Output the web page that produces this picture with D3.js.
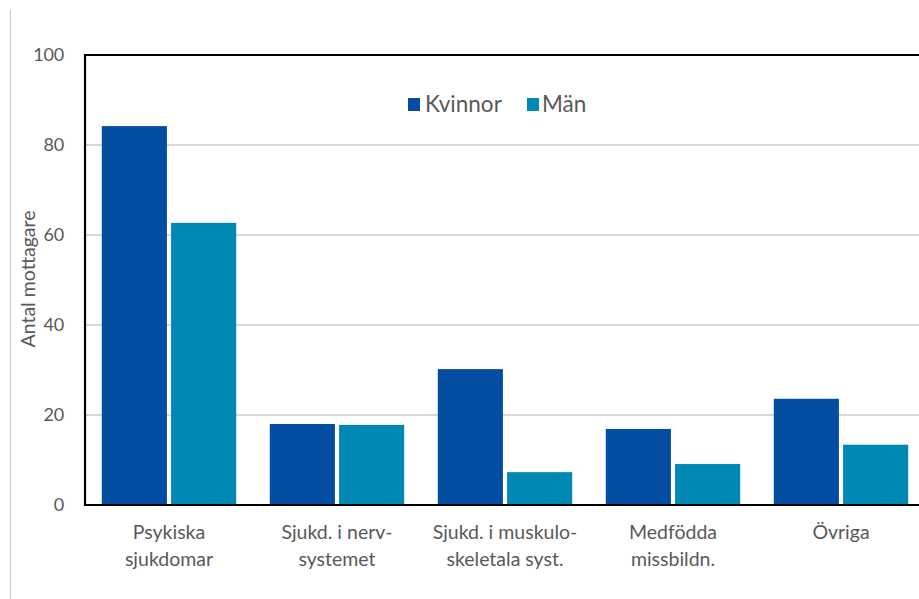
<!DOCTYPE html>
<html>
<head>
<meta charset="utf-8">
<script src="https://cdn.jsdelivr.net/npm/d3@7"></script>
<style>
  html, body { margin: 0; padding: 0; background: #fff; }
  svg { display: block; font-family: Lato, "Open Sans", sans-serif; }
</style>
</head>
<body>
<svg id="chart" width="919" height="599"></svg>
<script>
// Antal mottagare per diagnosgrupp, kvinnor och män
const categories = [
  ["Psykiska", "sjukdomar"],
  ["Sjukd. i nerv-", "systemet"],
  ["Sjukd. i muskulo-", "skeletala syst."],
  ["Medfödda", "missbildn."],
  ["Övriga"]
];
const series = ["Kvinnor", "Män"];
const kvinnor = [84.2, 18.0, 30.2, 16.9, 23.6];
const man = [62.7, 17.8, 7.3, 9.1, 13.4];
const yTicks = [0, 20, 40, 60, 80, 100];
const colors = ["#034ea2", "#0088b4"];

(function () {
  const svg = d3.select("#chart");
  const left = 85, top = 55, bottom = 505, right = 925;

  const x = d3.scaleBand().domain(d3.range(categories.length))
    .range([left, right]).paddingInner(0.2).paddingOuter(0.1);
  const xs = d3.scaleBand().domain(series).range([0, x.bandwidth()]).paddingInner(0.06);
  const y = d3.scaleLinear().domain([0, 100]).range([bottom, top]);

  // outer thin border line at left
  svg.append("line").attr("x1", 10.5).attr("x2", 10.5).attr("y1", 10).attr("y2", 599)
    .attr("stroke", "#c8c8c8").attr("stroke-width", 1);

  // gridlines
  svg.append("g").selectAll("line")
    .data(yTicks.filter(d => d > 0 && d < 100))
    .join("line")
    .attr("x1", left).attr("x2", right)
    .attr("y1", d => y(d)).attr("y2", d => y(d))
    .attr("stroke", "#d9d9d9").attr("stroke-width", 2);

  // bars
  const rows = categories.map((c, i) => ({ i, values: [kvinnor[i], man[i]] }));
  const g = svg.append("g").selectAll("g").data(rows).join("g")
    .attr("transform", d => `translate(${x(d.i)},0)`);
  g.selectAll("rect")
    .data(d => d.values.map((v, k) => ({ k, v })))
    .join("rect")
    .attr("x", d => xs(series[d.k]))
    .attr("width", xs.bandwidth())
    .attr("y", d => y(d.v))
    .attr("height", d => y(0) - y(d.v))
    .attr("fill", d => colors[d.k]);

  // frame: top, left, bottom
  svg.append("path")
    .attr("d", `M${right},${top}H${left}V${bottom}H${right}`)
    .attr("fill", "none").attr("stroke", "#000").attr("stroke-width", 2.2);

  // y tick labels
  svg.append("g").selectAll("text").data(yTicks).join("text")
    .attr("x", 64).attr("y", d => y(d)).attr("dy", "0.36em")
    .attr("text-anchor", "end").attr("font-size", 18).attr("letter-spacing", -0.2)
    .attr("fill", "#595959")
    .text(d => d);

  // y axis title
  svg.append("text")
    .attr("transform", "translate(35,279) rotate(-90)")
    .attr("text-anchor", "middle").attr("font-size", 19.5).attr("fill", "#595959")
    .text("Antal mottagare");

  // category labels
  const cl = svg.append("g").selectAll("text").data(categories).join("text")
    .attr("text-anchor", "middle").attr("font-size", 19.5).attr("fill", "#595959")
    .attr("x", (d, i) => x(i) + x.bandwidth() / 2)
    .attr("y", 539);
  cl.selectAll("tspan").data(d => d).join("tspan")
    .attr("x", function () { return d3.select(this.parentNode).attr("x"); })
    .attr("dy", (d, j) => j === 0 ? 0 : 27)
    .text(d => d);

  // legend
  const legX = [408, 527];
  const leg = svg.append("g").selectAll("g").data(series).join("g")
    .attr("transform", (d, i) => `translate(${legX[i]},98)`);
  leg.append("rect").attr("width", 12).attr("height", 13)
    .attr("fill", (d, i) => colors[i]);
  leg.append("text").attr("x", (d, i) => i === 0 ? 17 : 15).attr("y", 14)
    .attr("font-size", 22.5).attr("fill", "#595959").text(d => d);
})();
</script>
</body>
</html>
